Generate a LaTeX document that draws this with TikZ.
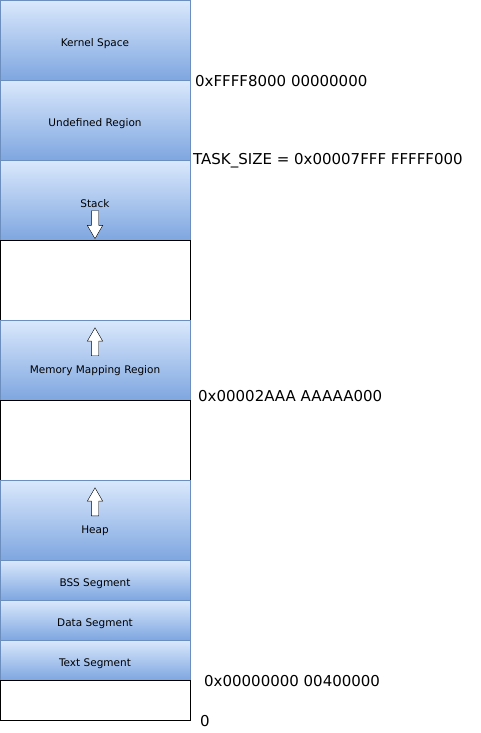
\documentclass[tikz,border=0pt]{standalone}
\usepackage{fontspec}
\setmainfont{DejaVu Sans}
\usetikzlibrary{shapes.arrows,positioning}
\definecolor{segtop}{HTML}{DAE8FC}
\definecolor{segbot}{HTML}{7EA6E0}
\definecolor{segline}{HTML}{6C8EBF}

\begin{document}
\begin{tikzpicture}[x=1pt,y=-1pt,
    seg/.style={draw=segline, top color=segtop, bottom color=segbot,
                minimum width=190pt, inner sep=0pt, anchor=north west},
    gap/.style={draw=black, fill=white, minimum width=190pt, inner sep=0pt,
                anchor=north west},
    seglbl/.style={inner sep=0pt, yshift=-1.5pt, font=\fontsize{10.5}{12}\selectfont},
    addr/.style={anchor=west, inner sep=0pt, font=\fontsize{15}{17}\selectfont},
    growarrow/.style={draw=black, fill=white, single arrow, inner sep=3.5pt,
                 minimum height=28pt, minimum width=15pt,
                 single arrow head extend=4pt, single arrow tip angle=60}]
    \useasboundingbox (0,0) rectangle (481,733);
    % segments, top to bottom
    \node[seg, minimum height=80pt] (kernel) at (0,0) {};
    \node[seg, minimum height=80pt] (undef) at (0,80) {};
    \node[seg, minimum height=80pt] (stack) at (0,160) {};
    \node[gap, minimum height=80pt] (free1) at (0,240) {};
    \node[seg, minimum height=80pt] (mmap) at (0,320) {};
    \node[gap, minimum height=80pt] (free2) at (0,400) {};
    \node[seg, minimum height=80pt] (heap) at (0,480) {};
    \node[seg, minimum height=40pt] (bss) at (0,560) {};
    \node[seg, minimum height=40pt] (data) at (0,600) {};
    \node[seg, minimum height=40pt] (text) at (0,640) {};
    \node[gap, minimum height=40pt] (free3) at (0,680) {};
    % labels and growth arrows
    \node[seglbl] (kernellbl) at (95,42) {Kernel Space};
    \node[seglbl] (undeflbl) at (95,122) {Undefined Region};
    \node[seglbl] (stacklbl) at (95,202) {Stack};
    \node[growarrow, shape border rotate=270] (stackarr) at (95,221.5) {};
    \node[growarrow, shape border rotate=90] (mmaparr) at (95,345) {};
    \node[seglbl] (mmaplbl) at (95,369) {Memory Mapping Region};
    \node[growarrow, shape border rotate=90] (heaparr) at (95,505) {};
    \node[seglbl] (heaplbl) at (95,529) {Heap};
    \node[seglbl] (bsslbl) at (95,582) {BSS Segment};
    \node[seglbl] (datalbl) at (95,622) {Data Segment};
    \node[seglbl] (textlbl) at (95,662) {Text Segment};
    % addresses
    \node[addr] (a1) at (195,81) {0xFFFF8000 00000000};
    \node[addr] (a2) at (193,161) {TASK\_SIZE = 0x00007FFF FFFFF000};
    \node[addr] (a3) at (198,396) {0x00002AAA AAAAA000};
    \node[addr] (a4) at (204,681) {0x00000000 00400000};
    \node[addr] (a5) at (200,721) {0};
\end{tikzpicture}
\end{document}
